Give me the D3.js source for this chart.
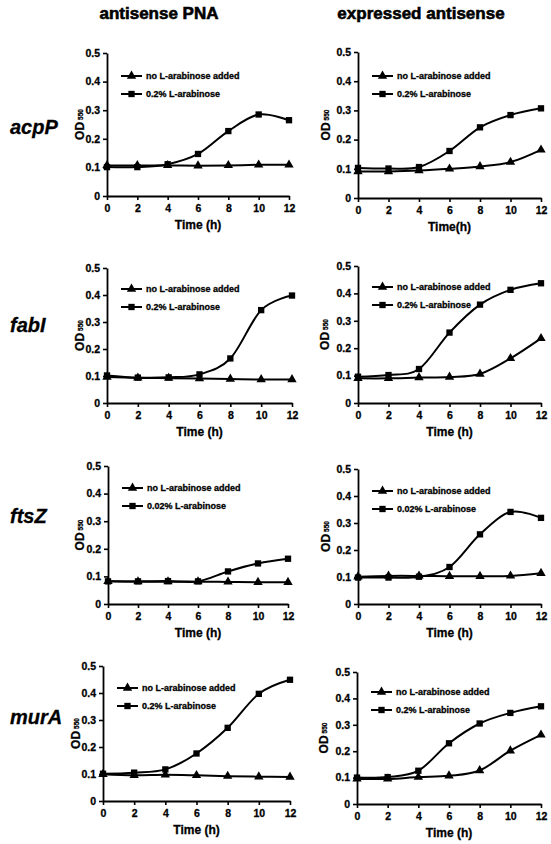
<!DOCTYPE html>
<html><head><meta charset="utf-8">
<script src="https://cdn.jsdelivr.net/npm/d3@7"></script>
<style>
body{margin:0;background:#fff}
svg{display:block}
text{font-family:"Liberation Sans",Arial,sans-serif;font-weight:bold;fill:#000}
.heavy{stroke:#000;stroke-width:0.6px}
.semi{stroke:#000;stroke-width:0.3px}
</style>
</head><body>
<svg id="c" width="551" height="844"></svg>
<script>
// ---------- DATA ----------
const columnTitles = ["antisense PNA", "expressed antisense"];
const genes = ["acpP", "fabI", "ftsZ", "murA"];
const times = [0, 2, 4, 6, 8, 10, 12];
const yTicks = [0, 0.1, 0.2, 0.3, 0.4, 0.5];
const seriesNone = "no L-arabinose added";
const arabinose = ["0.2% L-arabinose", "0.2% L-arabinose", "0.02% L-arabinose", "0.2% L-arabinose"];
const xTitles = ["Time (h)", "Time(h)", "Time (h)", "Time (h)", "Time (h)", "Time (h)", "Time (h)", "Time (h)"];

// OD550 values, row by row (gene), left = antisense PNA, right = expressed antisense
const acpP_PNA_none = [0.107, 0.107, 0.107, 0.106, 0.107, 0.109, 0.109];
const acpP_PNA_ara  = [0.101, 0.101, 0.111, 0.147, 0.227, 0.285, 0.265];
const acpP_exp_none = [0.091, 0.091, 0.094, 0.100, 0.108, 0.123, 0.165];
const acpP_exp_ara  = [0.103, 0.101, 0.106, 0.161, 0.242, 0.284, 0.307];

const fabI_PNA_none = [0.096, 0.093, 0.092, 0.091, 0.089, 0.087, 0.087];
const fabI_PNA_ara  = [0.102, 0.094, 0.095, 0.106, 0.165, 0.344, 0.398];
const fabI_exp_none = [0.090, 0.090, 0.093, 0.095, 0.106, 0.163, 0.236];
const fabI_exp_ara  = [0.096, 0.102, 0.124, 0.257, 0.359, 0.413, 0.437];

const ftsZ_PNA_none = [0.082, 0.081, 0.081, 0.081, 0.080, 0.079, 0.079];
const ftsZ_PNA_ara  = [0.082, 0.082, 0.083, 0.082, 0.118, 0.147, 0.164];
const ftsZ_exp_none = [0.101, 0.104, 0.104, 0.103, 0.103, 0.104, 0.114];
const ftsZ_exp_ara  = [0.098, 0.098, 0.101, 0.137, 0.258, 0.341, 0.319];

const murA_PNA_none = [0.099, 0.095, 0.097, 0.095, 0.092, 0.090, 0.089];
const murA_PNA_ara  = [0.101, 0.105, 0.117, 0.176, 0.271, 0.397, 0.449];
const murA_exp_none = [0.095, 0.095, 0.102, 0.107, 0.127, 0.202, 0.262];
const murA_exp_ara  = [0.100, 0.102, 0.126, 0.230, 0.305, 0.345, 0.370];

const panelData = [
  [acpP_PNA_none, acpP_PNA_ara], [acpP_exp_none, acpP_exp_ara],
  [fabI_PNA_none, fabI_PNA_ara], [fabI_exp_none, fabI_exp_ara],
  [ftsZ_PNA_none, ftsZ_PNA_ara], [ftsZ_exp_none, ftsZ_exp_ara],
  [murA_PNA_none, murA_PNA_ara], [murA_exp_none, murA_exp_ara]
];

// ---------- LAYOUT ----------
const layout = [
  {x0:107, x1:289, y0:196, y1:53,  od:84,  ly:23},
  {x0:358, x1:541, y0:198, y1:52,  od:330, ly:24},
  {x0:107, x1:292, y0:403, y1:268, od:84,  ly:21},
  {x0:358, x1:541, y0:403, y1:266, od:329, ly:21},
  {x0:108, x1:288, y0:604, y1:466, od:84,  ly:22},
  {x0:358, x1:541, y0:604, y1:469, od:330, ly:22},
  {x0:103, x1:290, y0:801, y1:666, od:80,  ly:22},
  {x0:357, x1:541, y0:804, y1:672, od:328, ly:20}
];
const rowLabelY = [134, 332, 523, 724];

const svg = d3.select("#c");

// column titles
svg.selectAll("text.coltitle").data(columnTitles).join("text")
  .attr("class","coltitle heavy")
  .attr("x",(d,i)=> i===0 ? 159 : 421)
  .attr("y",19)
  .attr("text-anchor","middle")
  .style("font-size","17px")
  .text(d=>d);

// row labels
svg.selectAll("text.gene").data(genes).join("text")
  .attr("class","gene semi")
  .attr("x",10)
  .attr("y",(d,i)=>rowLabelY[i])
  .style("font-size","20px")
  .style("font-style","italic")
  .text(d=>d);

const triangle = d3.symbol().type(d3.symbolTriangle).size(38);
const square = d3.symbol().type(d3.symbolSquare).size(40);
const curve = d3.curveCardinal.tension(0);

panelData.forEach((series, p) => {
  const L = layout[p];
  const g = svg.append("g");
  const x = d3.scaleLinear().domain([0,12]).range([L.x0, L.x1]);
  const y = d3.scaleLinear().domain([0,0.5]).range([L.y0, L.y1]);

  // axes
  const ya = g.append("g").attr("transform",`translate(${L.x0},0)`)
    .call(d3.axisLeft(y).tickValues(yTicks).tickSize(4).tickSizeOuter(0).tickPadding(3)
      .tickFormat(d=> d===0 ? "0" : d3.format(".1f")(d)));
  const xa = g.append("g").attr("transform",`translate(0,${L.y0})`)
    .call(d3.axisBottom(x).tickValues(times).tickSize(4).tickSizeOuter(0).tickPadding(5)
      .tickFormat(d3.format("d")));
  [ya, xa].forEach(a => {
    a.select(".domain").attr("stroke","#000").attr("stroke-width",1.8);
    a.selectAll(".tick line").attr("stroke","#000").attr("stroke-width",1.6);
    a.selectAll(".tick text").attr("class","semi")
      .style("font-size","10.5px").style("font-family","'Liberation Sans',Arial,sans-serif").style("font-weight","bold");
  });

  // x title
  g.append("text").attr("class","semi").attr("x",(L.x0+L.x1)/2).attr("y",L.y0+33)
    .attr("text-anchor","middle").style("font-size","12px").text(xTitles[p]);

  // y title OD550
  const yt = g.append("text").attr("class","semi")
    .attr("transform",`translate(${L.od},${(L.y0+L.y1)/2}) rotate(-90)`)
    .attr("text-anchor","middle").style("font-size","12px");
  yt.append("tspan").text("OD");
  yt.append("tspan").attr("dx",2).attr("dy",-1).style("font-size","6.5px").text("550");

  // lines
  const line = d3.line().x((d,i)=>x(times[i])).y(d=>y(d)).curve(curve);
  series.forEach((vals, s) => {
    g.append("path").datum(vals).attr("d",line)
      .attr("fill","none").attr("stroke","#000").attr("stroke-width",2);
  });
  series.forEach((vals, s) => {
    g.selectAll(null).data(vals).join("path")
      .attr("transform",(d,i)=>`translate(${x(times[i])},${y(d)})`)
      .attr("d", s===0 ? triangle : square)
      .attr("fill","#000");
  });

  // legend
  const row = Math.floor(p/2);
  const labels = [seriesNone, arabinose[row]];
  const lx = L.x0 + 14;
  labels.forEach((lab, s) => {
    const ly = L.y1 + L.ly + s*18;
    g.append("line").attr("x1",lx).attr("x2",lx+21).attr("y1",ly).attr("y2",ly)
      .attr("stroke","#000").attr("stroke-width",2);
    g.append("path").attr("transform",`translate(${lx+10.5},${ly})`)
      .attr("d", s===0 ? triangle : square).attr("fill","#000");
    g.append("text").attr("class","semi").attr("x",lx+25).attr("y",ly+3).style("font-size","9px").text(lab);
  });
});
</script>
</body></html>
